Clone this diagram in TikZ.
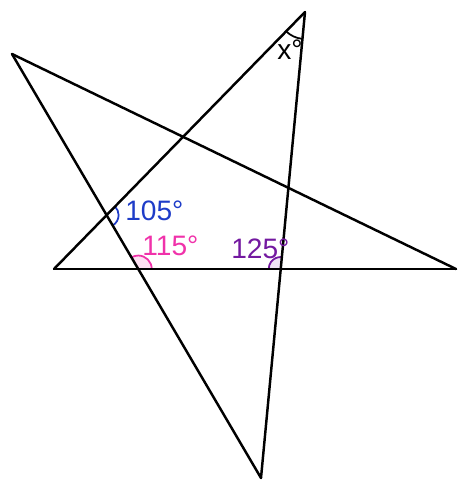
\documentclass[tikz,border=0pt]{standalone}
\usepackage{fontspec}
\setmainfont{Liberation Sans}
\usepackage{tikz}
\usetikzlibrary{angles, calc}
\definecolor{angblue}{RGB}{30, 60, 200}
\definecolor{angpink}{RGB}{240, 50, 170}
\definecolor{angpurple}{RGB}{115, 25, 160}

\begin{document}
\begin{tikzpicture}[
    x=0.02cm, y=-0.02cm,
    edge/.style={line width=1.4pt, line cap=round, line join=round},
    angmark/.style={line width=1pt, angle radius=0.24cm},
    label/.style={font=\fontsize{16}{18}\selectfont, inner sep=0pt, anchor=west},
]
\useasboundingbox (0,0) rectangle (458,481);

% Star points
\coordinate (top) at (305,12);
\coordinate (left) at (12,54);
\coordinate (right) at (456,269);
\coordinate (bottom) at (261,478);
\coordinate (base) at (54,269);

% Crossings
\coordinate (p105) at (intersection of left--bottom and top--base);
\coordinate (p115) at (intersection of left--bottom and base--right);
\coordinate (p125) at (intersection of top--bottom and base--right);

% Angle marks
\pic[angmark, draw=black, angle radius=0.54cm] {angle = base--top--bottom};
\pic[angmark, draw=angblue] {angle = bottom--p105--top};
\pic[angmark, draw=angpink, fill=angpink!15, angle radius=0.27cm] {angle = right--p115--left};
\pic[angmark, draw=angpurple, fill=angpurple!12] {angle = top--p125--base};

% Sides
\draw[edge] (top) -- (base);
\draw[edge] (base) -- (right);
\draw[edge] (right) -- (left);
\draw[edge] (left) -- (bottom);
\draw[edge] (bottom) -- (top);

% Labels
\node[label, anchor=center] (xlab) at (290,50) {x°};
\node[label, text=angblue] (lab105) at (125,211) {105°};
\node[label, text=angpink] (lab115) at (142,246) {115°};
\node[label, text=angpurple] (lab125) at (231,249) {125°};

\end{tikzpicture}
\end{document}
